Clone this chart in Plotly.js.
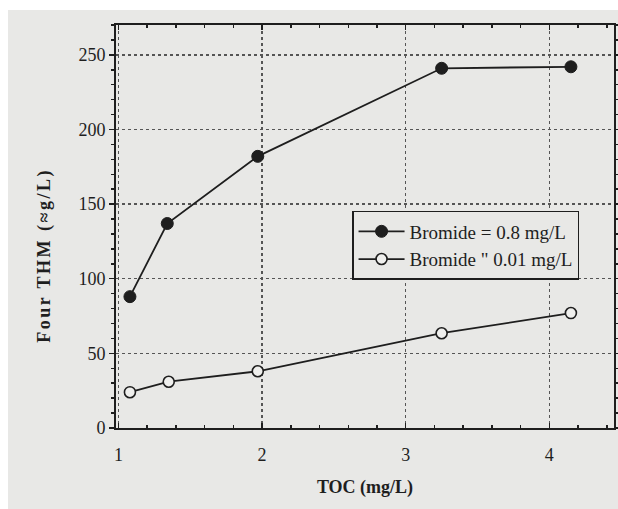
<!DOCTYPE html>
<html>
<head>
<meta charset="utf-8">
<script src="https://cdn.plot.ly/plotly-3.0.1.min.js"></script>
<style>
  html, body { margin: 0; padding: 0; background: #ffffff; }
  #bg { position: absolute; left: 8px; top: 10px; width: 610px; height: 499px; background: #e8e8e6; }
  #chart { position: absolute; left: 0; top: 0; width: 618px; height: 509px; }
  .annotation-text { letter-spacing: 2.5px; }
</style>
</head>
<body>
<div id="bg"></div>
<div id="chart"></div>
<script>
// TOC (mg/L) values
const tocHigh = [1.08, 1.34, 1.97, 3.25, 4.15];
const thmHigh = [88, 137, 182, 241, 242];
const tocLow  = [1.08, 1.35, 1.97, 3.25, 4.15];
const thmLow  = [24, 31, 38, 63.5, 77];
const seriesNames = ['Bromide = 0.8 mg/L', 'Bromide " 0.01 mg/L'];
const xTickVals = [1, 2, 3, 4];
const yTickVals = [0, 50, 100, 150, 200, 250];

const ink = '#1e1e1e';
const serif = '"Liberation Serif", "Times New Roman", serif';

const traces = [
  {
    x: tocHigh, y: thmHigh, name: seriesNames[0], type: 'scatter', mode: 'lines+markers',
    line: { color: ink, width: 1.8 },
    marker: { symbol: 'circle', size: 12, color: ink, line: { color: ink, width: 1 } }
  },
  {
    x: tocLow, y: thmLow, name: seriesNames[1], type: 'scatter', mode: 'lines+markers',
    line: { color: ink, width: 1.8 },
    marker: { symbol: 'circle', size: 11, color: '#efefed', line: { color: ink, width: 1.6 } }
  }
];

const layout = {
  width: 618, height: 509,
  margin: { l: 116, r: 4, t: 25, b: 81 },
  paper_bgcolor: 'rgba(0,0,0,0)',
  plot_bgcolor: 'rgba(0,0,0,0)',
  font: { family: serif, color: ink, size: 16 },
  showlegend: true,
  legend: {
    x: 0.474, y: 0.5385, xanchor: 'left', yanchor: 'top',
    bgcolor: '#e8e8e6', bordercolor: ink, borderwidth: 1.5,
    font: { family: serif, size: 19, color: ink },
    itemwidth: 46, tracegroupgap: 0,
    entrywidth: 231, entrywidthmode: 'pixels'
  },
  xaxis: {
    range: [0.983, 4.45],
    tickmode: 'array', tickvals: xTickVals, ticktext: xTickVals.map(String),
    ticks: 'inside', ticklen: 5, tickwidth: 1.5, tickcolor: ink,
    minor: { dtick: 0.2, tick0: 1, ticks: 'inside', ticklen: 3, tickcolor: ink, showgrid: false },
    showline: true, linecolor: ink, linewidth: 2, mirror: 'ticks',
    showgrid: true, gridcolor: '#555', griddash: 'dot', gridwidth: 1.3,
    zeroline: false,
    tickfont: { family: serif, size: 18, color: ink },
    ticklabelstandoff: 9,
    title: { text: 'TOC (mg/L)', font: { family: serif, size: 18, color: ink, weight: 'bold' }, standoff: 17 }
  },
  yaxis: {
    range: [0, 270],
    tickmode: 'array', tickvals: yTickVals, ticktext: yTickVals.map(String),
    ticks: 'outside', ticklen: 5, tickwidth: 1.5, tickcolor: ink,
    minor: { dtick: 10, tick0: 0, ticks: 'outside', ticklen: 3, tickcolor: ink, showgrid: false },
    showline: true, linecolor: ink, linewidth: 2, mirror: 'ticks',
    showgrid: true, gridcolor: '#555', griddash: 'dot', gridwidth: 1.3,
    zeroline: false,
    tickfont: { family: serif, size: 18, color: ink },
    title: { text: '' }
  },
  annotations: [
    {
      text: '<b>Four THM (≈g/L)</b>', textangle: -90,
      xref: 'paper', yref: 'paper', x: -0.144, y: 0.428,
      xanchor: 'center', yanchor: 'middle', showarrow: false,
      font: { family: serif, size: 18, color: ink }
    }
  ]
};

Plotly.newPlot('chart', traces, layout, { displayModeBar: false, staticPlot: true });
</script>
</body>
</html>
